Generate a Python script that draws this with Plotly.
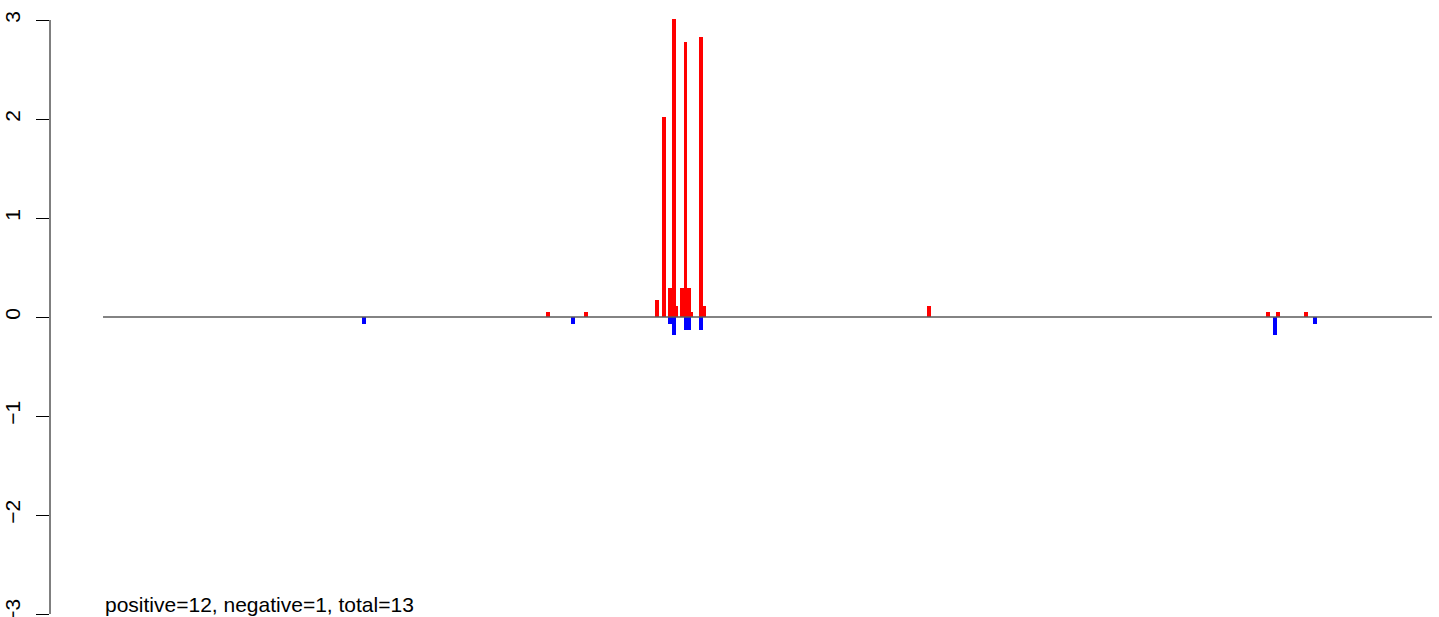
import plotly.graph_objects as go

# Positions (arbitrary units along the track, 0..1000) and values
pos_x = [334.8, 363.4, 416.9, 422.1, 426.6, 429.3, 431.5, 436.0, 438.3, 440.6,
         442.8, 450.0, 452.3, 621.5, 876.6, 884.1, 905.2]
pos_y = [0.05, 0.05, 0.17, 2.02, 0.29, 3.01, 0.11, 0.29, 2.78, 0.29,
         0.05, 2.83, 0.11, 0.11, 0.05, 0.05, 0.05]

neg_x = [196.4, 353.6, 426.6, 429.3, 438.3, 440.6, 450.0, 881.9, 912.0]
neg_y = [-0.07, -0.07, -0.07, -0.18, -0.13, -0.13, -0.13, -0.18, -0.07]

track_start, track_end = 0, 1000
y_ticks = [-3, -2, -1, 0, 1, 2, 3]
summary_text = "positive=12, negative=1, total=13"

FONT = "Liberation Sans, Arial, Helvetica, sans-serif"

fig = go.Figure()
fig.add_trace(go.Bar(x=pos_x, y=pos_y, width=3.0,
                     marker=dict(color="#FF0000", line=dict(width=0)),
                     showlegend=False))
fig.add_trace(go.Bar(x=neg_x, y=neg_y, width=3.0,
                     marker=dict(color="#0000FF", line=dict(width=0)),
                     showlegend=False))
fig.add_trace(go.Scatter(x=[track_start, track_end], y=[0, 0], mode="lines",
                         line=dict(color="#5a5a5a", width=1.3),
                         showlegend=False, hoverinfo="skip"))

# y axis line spanning only the tick range (R style)
fig.add_shape(type="line", xref="paper", yref="y", x0=0, x1=0,
              y0=min(y_ticks), y1=max(y_ticks),
              line=dict(color="black", width=1))

fig.add_annotation(x=track_start, y=-2.9, xref="x", yref="y",
                   text=summary_text, showarrow=False,
                   xanchor="left", yanchor="middle",
                   font=dict(family=FONT, size=21, color="black"))

# figure slightly taller than the window so the bottom is clipped like the reference
fig.update_layout(
    width=1439, height=640,
    margin=dict(l=50, r=0, t=0, b=0),
    plot_bgcolor="white", paper_bgcolor="white",
    barmode="overlay",
    bargap=0,
    xaxis=dict(visible=False, range=[-39.9, 1005.3], fixedrange=True),
    yaxis=dict(range=[-3.2626, 3.202], tickvals=y_ticks,
               ticks="outside", ticklen=13, tickwidth=1, tickcolor="black",
               showline=False, showgrid=False, zeroline=False,
               tickangle=-90, ticklabelstandoff=8, fixedrange=True,
               tickfont=dict(family=FONT, size=21, color="black")),
    font=dict(family=FONT),
)

fig.write_html("out.html",
               config={"displayModeBar": False},
               post_script="document.body.style.margin='0';"
                           "document.body.style.overflow='hidden';")
